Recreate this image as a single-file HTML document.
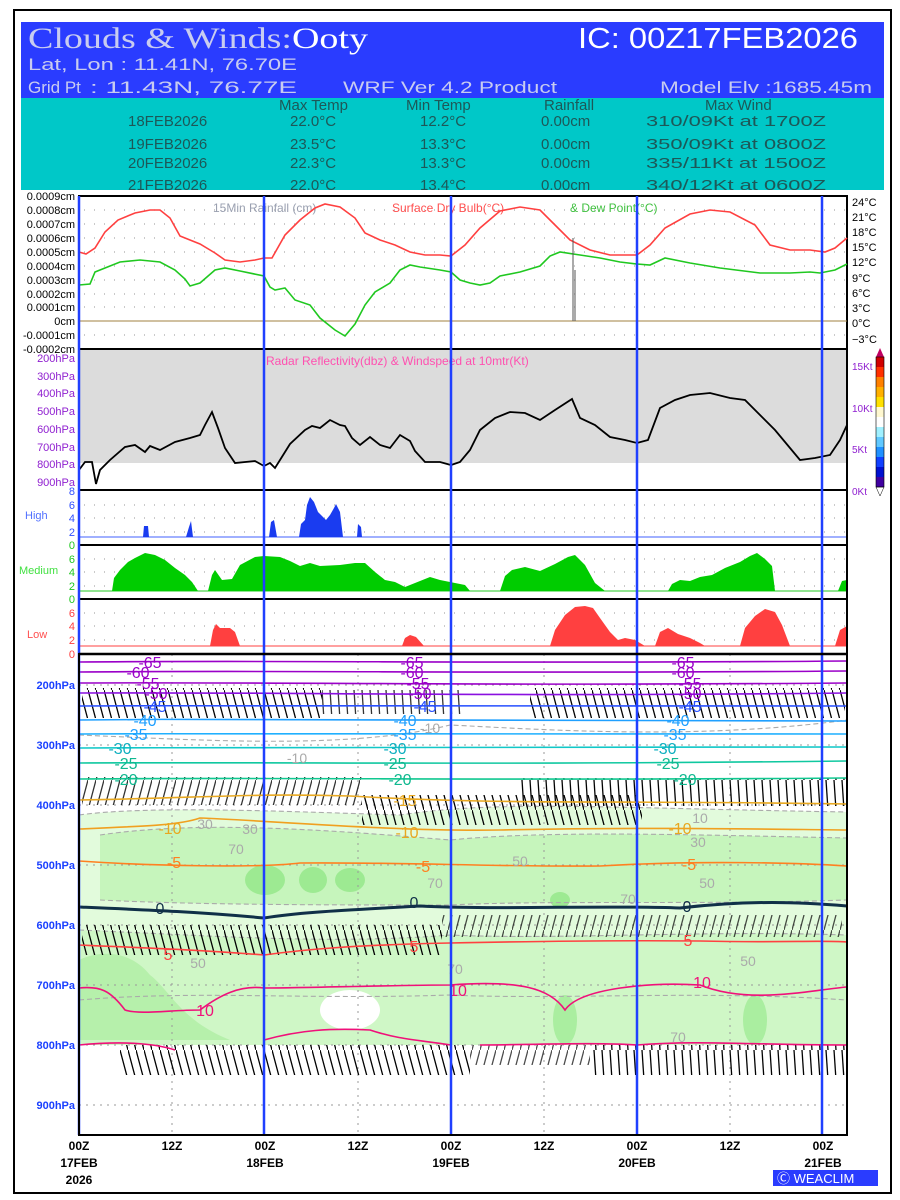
<!DOCTYPE html>
<html><head><meta charset="utf-8"><style>
html,body{margin:0;padding:0;background:#fff;}
svg{display:block;}
text{font-family:"Liberation Sans",sans-serif;}
</style></head><body>
<svg width="900" height="1200" viewBox="0 0 900 1200" xmlns="http://www.w3.org/2000/svg">
<defs>
<pattern id="barbA" width="8" height="30" patternUnits="userSpaceOnUse"><line x1="0" y1="0" x2="8" y2="30" stroke="#000" stroke-width="1.3"/></pattern>
<pattern id="barbB" width="8" height="30" patternUnits="userSpaceOnUse"><line x1="8" y1="0" x2="0" y2="30" stroke="#000" stroke-width="1.3"/></pattern>
<pattern id="barbV" width="8" height="30" patternUnits="userSpaceOnUse"><line x1="2" y1="0" x2="4" y2="30" stroke="#000" stroke-width="1.3"/></pattern>
</defs>
<rect x="14" y="10" width="877" height="1183" fill="#fff" stroke="#000" stroke-width="2"/>
<rect x="21" y="22" width="863" height="76" fill="#2a3cff"/>
<rect x="21" y="98" width="863" height="92" fill="#00c8c8"/>
<text x="28" y="48" font-size="30" fill="#c8ccf0" textLength="340" lengthAdjust="spacingAndGlyphs" style="font-family:'Liberation Serif',serif">Clouds &amp; Winds:<tspan fill="#fff">Ooty</tspan></text>
<text x="578" y="48" font-size="29" fill="#fff" textLength="280" lengthAdjust="spacingAndGlyphs">IC: 00Z17FEB2026</text>
<text x="28" y="70" font-size="17" fill="#c8ccf0" textLength="269" lengthAdjust="spacingAndGlyphs">Lat, Lon : 11.41N, 76.70E</text>
<text x="28" y="93" font-size="17" fill="#c8ccf0">Grid Pt</text>
<text x="90" y="93" font-size="17" fill="#c8ccf0" textLength="207" lengthAdjust="spacingAndGlyphs">: 11.43N, 76.77E</text>
<text x="343" y="93" font-size="17" fill="#c8ccf0" textLength="214" lengthAdjust="spacingAndGlyphs">WRF Ver 4.2 Product</text>
<text x="660" y="93" font-size="17" fill="#c8ccf0" textLength="212" lengthAdjust="spacingAndGlyphs">Model Elv :1685.45m</text>
<g font-size="15" fill="#1d5858">
<text x="279" y="110">Max Temp</text><text x="406" y="110">Min Temp</text><text x="544" y="110">Rainfall</text><text x="705" y="110">Max Wind</text>
<text x="128" y="126">18FEB2026</text><text x="290" y="126">22.0°C</text><text x="420" y="126">12.2°C</text><text x="541" y="126">0.00cm</text><text x="646" y="126" textLength="180" lengthAdjust="spacingAndGlyphs">310/09Kt at 1700Z</text>
<text x="128" y="149">19FEB2026</text><text x="290" y="149">23.5°C</text><text x="420" y="149">13.3°C</text><text x="541" y="149">0.00cm</text><text x="646" y="149" textLength="180" lengthAdjust="spacingAndGlyphs">350/09Kt at 0800Z</text>
<text x="128" y="168">20FEB2026</text><text x="290" y="168">22.3°C</text><text x="420" y="168">13.3°C</text><text x="541" y="168">0.00cm</text><text x="646" y="168" textLength="180" lengthAdjust="spacingAndGlyphs">335/11Kt at 1500Z</text>
<text x="128" y="190">21FEB2026</text><text x="290" y="190">22.0°C</text><text x="420" y="190">13.4°C</text><text x="541" y="190">0.00cm</text><text x="646" y="190" textLength="180" lengthAdjust="spacingAndGlyphs">340/12Kt at 0600Z</text>
</g>
<rect x="79" y="196" width="768" height="153" fill="#fff" stroke="#000" stroke-width="2"/>
<g stroke="#aaa" stroke-dasharray="1,9" stroke-width="1.2">
<line x1="84" y1="210" x2="847" y2="210"/><line x1="84" y1="224" x2="847" y2="224"/><line x1="84" y1="238" x2="847" y2="238"/><line x1="84" y1="252" x2="847" y2="252"/><line x1="84" y1="266" x2="847" y2="266"/><line x1="84" y1="280" x2="847" y2="280"/><line x1="84" y1="294" x2="847" y2="294"/><line x1="84" y1="307" x2="847" y2="307"/><line x1="84" y1="335" x2="847" y2="335"/>
</g>
<line x1="79" y1="321" x2="847" y2="321" stroke="#a08040" stroke-width="1"/>
<g font-size="11" fill="#000" text-anchor="end">
<text x="75" y="200">0.0009cm</text><text x="75" y="214">0.0008cm</text><text x="75" y="228">0.0007cm</text><text x="75" y="242">0.0006cm</text><text x="75" y="256">0.0005cm</text><text x="75" y="270">0.0004cm</text><text x="75" y="284">0.0003cm</text><text x="75" y="298">0.0002cm</text><text x="75" y="311">0.0001cm</text><text x="75" y="325">0cm</text><text x="75" y="339">-0.0001cm</text><text x="75" y="353">-0.0002cm</text>
</g>
<g font-size="11" fill="#000">
<text x="852" y="206">24°C</text><text x="852" y="221">21°C</text><text x="852" y="236">18°C</text><text x="852" y="251">15°C</text><text x="852" y="266">12°C</text><text x="852" y="282">9°C</text><text x="852" y="297">6°C</text><text x="852" y="312">3°C</text><text x="852" y="327">0°C</text><text x="852" y="343">−3°C</text>
</g>
<text x="213" y="212" font-size="12" fill="#9aa0b0">15Min Rainfall (cm)</text>
<text x="392" y="212" font-size="12" fill="#ff5050">Surface Dry Bulb(°C)</text>
<text x="570" y="212" font-size="12" fill="#40c040">&amp; Dew Point(°C)</text>
<polyline fill="none" stroke="#ff4040" stroke-width="1.6" points="79,252 86,254 95,248 105,232 118,220 135,213 150,210 160,210 170,218 180,236 190,240 200,244 215,253 225,260 240,262 255,260 264,258 272,258 285,235 300,220 315,208 325,204 340,207 355,218 365,233 380,240 395,245 410,252 425,255 440,255 451,256 465,245 480,228 500,211 520,207 540,210 555,225 570,240 590,250 610,255 637,255 650,245 665,228 690,214 710,210 730,212 755,225 770,245 790,250 810,250 825,252 835,248 847,238"/>
<polyline fill="none" stroke="#20c820" stroke-width="1.6" points="79,285 90,284 95,272 105,268 120,262 140,260 160,262 175,270 185,279 190,286 200,283 215,270 225,268 240,271 264,276 270,287 275,290 285,288 295,300 310,305 320,318 335,330 345,336 355,324 365,305 375,292 390,283 400,270 410,265 420,267 440,270 451,272 460,280 470,283 480,285 490,283 500,276 520,272 540,266 550,256 560,252 580,255 600,258 620,262 637,264 650,265 665,258 690,263 720,268 760,273 790,273 810,272 820,273 835,270 847,264"/>
<line x1="573" y1="321" x2="573" y2="238" stroke="#555" stroke-width="1"/><line x1="575" y1="321" x2="575" y2="270" stroke="#555" stroke-width="1"/>
<rect x="79" y="349" width="768" height="114" fill="#dcdcdc"/>
<rect x="79" y="349" width="768" height="141" fill="none" stroke="#000" stroke-width="2"/>
<g font-size="11" fill="#9020d0" text-anchor="end">
<text x="75" y="362">200hPa</text><text x="75" y="380">300hPa</text><text x="75" y="397">400hPa</text><text x="75" y="415">500hPa</text><text x="75" y="433">600hPa</text><text x="75" y="451">700hPa</text><text x="75" y="468">800hPa</text><text x="75" y="486">900hPa</text>
</g>
<g font-size="10" fill="#9020d0"><text x="852" y="370">15Kt</text><text x="852" y="412">10Kt</text><text x="852" y="453">5Kt</text><text x="852" y="495">0Kt</text></g>
<text x="266" y="365" font-size="12" fill="#ff50b0">Radar Reflectivity(dbz) &amp; Windspeed at 10mtr(Kt)</text>
<polyline fill="none" stroke="#000" stroke-width="1.8" points="79,470 85,462 92,462 96,484 100,470 110,460 125,447 135,445 145,452 150,446 160,450 175,442 190,438 200,435 205,425 212,412 218,428 225,448 235,463 255,461 264,466 270,463 275,468 280,460 290,444 305,430 312,426 320,428 330,420 340,425 345,426 352,438 360,445 370,437 380,445 390,448 400,435 410,441 415,451 425,462 440,462 451,465 460,462 470,450 480,430 495,418 510,412 525,413 540,420 555,410 572,399 580,418 595,425 610,437 625,440 637,443 648,440 660,408 675,400 690,395 710,393 730,398 745,400 760,415 775,430 790,448 800,460 815,458 830,455 840,440 847,425"/>
<g>
<polygon points="876,357 880,348 884,357" fill="#c00060"/>
<rect x="876" y="357" width="8" height="10" fill="#d00000"/><rect x="876" y="367" width="8" height="10" fill="#ff3000"/><rect x="876" y="377" width="8" height="10" fill="#ff8000"/><rect x="876" y="387" width="8" height="10" fill="#ffb000"/><rect x="876" y="397" width="8" height="10" fill="#ffe000"/><rect x="876" y="407" width="8" height="10" fill="#fff8d0"/><rect x="876" y="417" width="8" height="10" fill="#fff"/><rect x="876" y="427" width="8" height="10" fill="#a0f0ff"/><rect x="876" y="437" width="8" height="10" fill="#60c8ff"/><rect x="876" y="447" width="8" height="10" fill="#2090ff"/><rect x="876" y="457" width="8" height="10" fill="#1040ff"/><rect x="876" y="467" width="8" height="10" fill="#0010d0"/><rect x="876" y="477" width="8" height="10" fill="#4000a0"/>
<polygon points="876,487 880,496 884,487" fill="#fff" stroke="#000" stroke-width="0.5"/>
<rect x="876" y="357" width="8" height="130" fill="none" stroke="#000" stroke-width="0.6"/>
</g>
<rect x="79" y="490" width="768" height="164" fill="#fff"/>
<g stroke="#aaa" stroke-dasharray="1,9" stroke-width="1.2">
<line x1="84" y1="505" x2="847" y2="505"/><line x1="84" y1="518" x2="847" y2="518"/><line x1="84" y1="532" x2="847" y2="532"/>
<line x1="84" y1="559" x2="847" y2="559"/><line x1="84" y1="572" x2="847" y2="572"/><line x1="84" y1="586" x2="847" y2="586"/>
<line x1="84" y1="613" x2="847" y2="613"/><line x1="84" y1="626" x2="847" y2="626"/><line x1="84" y1="640" x2="847" y2="640"/>
</g>
<line x1="79" y1="537" x2="847" y2="537" stroke="#4060ff" stroke-width="1"/>
<polygon fill="#1a3cf0" points="143,537 144,526 148,526 149,537 186,537 189,527 191,521 193,537 269,537 271,522 274,520 277,537 299,537 301,524 305,520 307,505 310,497 314,502 318,512 322,516 326,520 330,515 334,508 336,504 340,512 343,537 357,537 358,524 361,527 362,537"/>
<line x1="79" y1="591" x2="847" y2="591" stroke="#20c820" stroke-width="1"/>
<polygon fill="#00cc00" points="112,591 114,578 120,570 128,562 135,558 145,553 155,555 165,560 175,568 185,575 192,582 198,591 208,591 212,575 215,570 222,580 232,579 240,565 255,557 264,556 280,557 290,561 300,566 310,563 320,566 340,565 355,563 365,563 375,572 385,580 395,582 405,587 420,581 430,577 440,580 455,583 465,585 470,591 500,591 505,576 512,570 525,567 540,571 555,564 568,557 575,555 585,565 595,583 605,591 668,591 672,584 680,580 690,581 700,577 712,575 725,568 740,562 750,556 757,553 765,559 772,566 775,591 838,591 842,581 847,580 847,591"/>
<line x1="79" y1="646" x2="847" y2="646" stroke="#ff4040" stroke-width="1"/>
<polygon fill="#ff4040" points="210,646 213,630 216,624 220,628 230,628 235,632 240,646 402,646 405,638 410,635 416,637 424,646 550,646 555,630 565,615 575,607 585,606 593,608 600,618 610,632 618,640 625,638 635,640 645,646 655,646 660,632 668,628 678,634 690,638 700,643 705,646 740,646 745,628 755,616 765,609 775,612 782,625 790,646 835,646 840,630 847,626 847,646"/>
<line x1="79" y1="545" x2="847" y2="545" stroke="#000" stroke-width="2"/>
<line x1="79" y1="599" x2="847" y2="599" stroke="#000" stroke-width="2"/>
<rect x="79" y="490" width="768" height="164" fill="none" stroke="#000" stroke-width="2"/>
<g font-size="11" fill="#3050ff" text-anchor="end"><text x="75" y="495">8</text><text x="75" y="509">6</text><text x="75" y="522">4</text><text x="75" y="536">2</text></g>
<g font-size="11" fill="#20c820" text-anchor="end"><text x="75" y="549">0</text><text x="75" y="563">6</text><text x="75" y="576">4</text><text x="75" y="590">2</text><text x="75" y="603">0</text></g>
<g font-size="11" fill="#ff4040" text-anchor="end"><text x="75" y="617">6</text><text x="75" y="630">4</text><text x="75" y="644">2</text><text x="75" y="658">0</text></g>
<text x="25" y="519" font-size="11" fill="#5070ff">High</text>
<text x="19" y="574" font-size="11" fill="#40e040">Medium</text>
<text x="27" y="638" font-size="11" fill="#ff5050">Low</text>
<rect x="79" y="654" width="768" height="481" fill="#fff"/>
<path d="M79,815 C150,805 300,812 400,815 C500,800 600,808 847,812 L847,1045 L79,1045 Z" fill="#e2fbdc"/>
<path d="M100,835 C200,820 330,830 450,840 C550,830 700,835 847,838 L847,900 C700,905 550,900 450,905 C330,905 200,905 100,900 Z" fill="#c6f5bc"/>
<path d="M79,930 C200,935 330,945 450,935 C560,940 700,930 847,935 L847,1045 C750,1045 650,1045 560,1045 C470,1045 300,1045 79,1045 Z" fill="#cff7c6"/>
<path d="M79,960 C100,950 130,950 150,975 C170,990 180,1020 230,1040 L79,1040 Z" fill="#b6f0ab"/>
<ellipse cx="265" cy="880" rx="20" ry="15" fill="#9dea92"/><ellipse cx="313" cy="880" rx="14" ry="13" fill="#9dea92"/><ellipse cx="350" cy="880" rx="15" ry="12" fill="#9dea92"/>
<ellipse cx="350" cy="1010" rx="30" ry="20" fill="#fff"/><ellipse cx="565" cy="1020" rx="12" ry="25" fill="#aaeea0"/><ellipse cx="755" cy="1020" rx="12" ry="25" fill="#aaeea0"/>
<ellipse cx="560" cy="900" rx="10" ry="8" fill="#9dea92"/>
<g fill="none" stroke="#aaa" stroke-dasharray="5,3" stroke-width="1.1">
<path d="M79,735 C200,740 350,750 450,725 C550,730 700,740 847,720"/>
<path d="M79,815 C150,805 300,812 400,815 C500,800 600,808 847,812"/>
<path d="M100,835 C200,820 330,830 450,840 C550,830 700,835 847,838"/>
<path d="M100,900 C200,905 330,905 450,905 C550,900 700,905 847,900"/>
<path d="M79,930 C200,935 330,945 450,935 C560,940 700,930 847,935"/>
<path d="M79,1000 C200,990 300,1000 450,995 C560,1000 700,990 847,1000"/>
</g>
<g stroke="#999" stroke-dasharray="2,5" stroke-width="1">
<line x1="172" y1="654" x2="172" y2="1135"/><line x1="358" y1="654" x2="358" y2="1135"/><line x1="544" y1="654" x2="544" y2="1135"/><line x1="730" y1="654" x2="730" y2="1135"/>
<line x1="79" y1="685" x2="847" y2="685"/><line x1="79" y1="745" x2="847" y2="745"/><line x1="79" y1="805" x2="847" y2="805"/><line x1="79" y1="865" x2="847" y2="865"/><line x1="79" y1="925" x2="847" y2="925"/><line x1="79" y1="985" x2="847" y2="985"/><line x1="79" y1="1045" x2="847" y2="1045"/><line x1="79" y1="1105" x2="847" y2="1105"/>
</g>
<rect x="82" y="688" width="240" height="30" fill="url(#barbA)"/>
<rect x="322" y="690" width="140" height="24" fill="url(#barbV)" opacity="0.8"/>
<rect x="530" y="688" width="315" height="30" fill="url(#barbA)"/>
<rect x="82" y="777" width="280" height="28" fill="url(#barbB)" opacity="0.8"/>
<rect x="362" y="795" width="280" height="30" fill="url(#barbA)"/>
<rect x="520" y="778" width="325" height="28" fill="url(#barbV)"/>
<rect x="82" y="925" width="360" height="30" fill="url(#barbA)"/>
<rect x="442" y="915" width="400" height="22" fill="url(#barbB)" opacity="0.7"/>
<rect x="120" y="1045" width="350" height="30" fill="url(#barbA)"/>
<rect x="470" y="1045" width="120" height="20" fill="url(#barbB)" opacity="0.7"/>
<rect x="590" y="1045" width="255" height="30" fill="url(#barbV)"/>
<g fill="none" stroke-width="1.6">
<path d="M79,662 C300,660 500,664 847,661" stroke="#9a00c8"/>
<path d="M79,672 C300,670 500,674 847,671" stroke="#9a00c8"/>
<path d="M79,683 C300,682 500,686 847,683" stroke="#9a00c8"/>
<path d="M79,693 C300,692 500,697 847,693" stroke="#8a10e0"/>
<path d="M79,706 C300,705 500,707 847,706" stroke="#2850ff"/>
<path d="M79,720 C300,718 500,719 847,721" stroke="#20a0ff"/>
<path d="M79,734 C300,733 500,735 847,734" stroke="#20b0ff"/>
<path d="M79,748 C300,747 500,749 847,747" stroke="#10c8c8"/>
<path d="M79,763 C300,762 500,765 847,761" stroke="#10c8a0"/>
<path d="M79,779 C300,777 500,781 847,778" stroke="#10c890"/>
<path d="M79,800 C200,798 250,793 350,796 C500,805 600,800 847,804" stroke="#e8a820"/>
<path d="M79,829 C150,826 180,825 200,818 C260,820 400,832 500,830 C650,827 750,829 847,830" stroke="#f0a020"/>
<path d="M79,861 C150,866 260,868 300,863 C400,862 500,867 600,866 C700,860 800,863 847,866" stroke="#ff8020"/>
<path d="M79,907 C150,910 200,912 264,918 C300,912 350,910 420,906 C500,910 600,905 680,908 C750,900 800,902 847,906" stroke="#103048" stroke-width="3"/>
<path d="M79,945 C150,948 200,950 264,955 C300,950 350,945 450,943 C500,942 600,940 700,941 C780,943 820,940 847,942" stroke="#ff4040"/>
<path d="M79,988 C100,986 110,990 125,1010 C140,1015 170,1010 200,1010 C220,995 240,985 264,988 C300,988 400,985 450,985 C520,980 550,988 565,1010 C580,988 650,982 700,985 C750,1005 810,990 847,987" stroke="#f0107a"/>
<path d="M79,1045 C130,1040 160,1045 175,1050 M264,1040 C300,1030 330,1028 370,1030 C400,1040 420,1040 451,1045 M480,1045 C520,1045 600,1042 637,1045 C700,1040 750,1045 847,1045" stroke="#f0107a"/>
</g>
<g font-size="16" text-anchor="middle">
<g fill="#9a00c8"><text x="150" y="668">-65</text><text x="138" y="678">-60</text><text x="148" y="689">-55</text><text x="156" y="699">-50</text>
<text x="412" y="668">-65</text><text x="412" y="678">-60</text><text x="418" y="689">-55</text><text x="420" y="699">-50</text>
<text x="683" y="668">-65</text><text x="683" y="678">-60</text><text x="690" y="689">-55</text><text x="690" y="699">-50</text></g>
<g fill="#2850ff"><text x="155" y="712">-45</text><text x="425" y="712">-45</text><text x="690" y="712">-45</text></g>
<g fill="#20a0ff"><text x="145" y="726">-40</text><text x="405" y="726">-40</text><text x="678" y="726">-40</text>
<text x="136" y="740">-35</text><text x="405" y="740">-35</text><text x="675" y="740">-35</text></g>
<g fill="#10b0c0"><text x="120" y="754">-30</text><text x="395" y="754">-30</text><text x="665" y="754">-30</text></g>
<g fill="#10b890"><text x="126" y="769">-25</text><text x="395" y="769">-25</text><text x="668" y="769">-25</text>
<text x="126" y="785">-20</text><text x="400" y="785">-20</text><text x="685" y="785">-20</text></g>
<g fill="#e8a820"><text x="405" y="806">-15</text><text x="170" y="834">-10</text><text x="407" y="838">-10</text><text x="680" y="834">-10</text></g>
<g fill="#ff8020"><text x="174" y="868">-5</text><text x="423" y="872">-5</text><text x="689" y="870">-5</text></g>
<g fill="#103048"><text x="160" y="914">0</text><text x="414" y="908">0</text><text x="687" y="912">0</text></g>
<g fill="#ff4040"><text x="168" y="960">5</text><text x="414" y="952">5</text><text x="688" y="946">5</text></g>
<g fill="#f0107a"><text x="205" y="1016">10</text><text x="458" y="996">10</text><text x="702" y="988">10</text></g>
<g fill="#aaa" font-size="14"><text x="236" y="854">70</text><text x="435" y="888">70</text><text x="628" y="904">70</text><text x="707" y="888">50</text><text x="520" y="866">50</text><text x="250" y="834">30</text><text x="198" y="968">50</text><text x="455" y="974">70</text><text x="748" y="966">50</text><text x="678" y="1042">70</text><text x="297" y="763">-10</text><text x="430" y="733">-10</text><text x="700" y="823">10</text><text x="698" y="847">30</text><text x="205" y="829">30</text></g>
</g>
<g stroke="#2040ff" stroke-width="2.5">
<line x1="79" y1="196" x2="79" y2="1135"/><line x1="264" y1="196" x2="264" y2="1135"/><line x1="451" y1="196" x2="451" y2="1135"/><line x1="637" y1="196" x2="637" y2="1135"/><line x1="822" y1="196" x2="822" y2="1135"/>
</g>
<rect x="79" y="654" width="768" height="481" fill="none" stroke="#000" stroke-width="2"/>
<line x1="79" y1="654" x2="847" y2="654" stroke="#000" stroke-width="2.5"/>
<g font-size="11" fill="#1a40ff" text-anchor="end" font-weight="bold">
<text x="75" y="689">200hPa</text><text x="75" y="749">300hPa</text><text x="75" y="809">400hPa</text><text x="75" y="869">500hPa</text><text x="75" y="929">600hPa</text><text x="75" y="989">700hPa</text><text x="75" y="1049">800hPa</text><text x="75" y="1109">900hPa</text>
</g>
<g font-size="12" fill="#000" text-anchor="middle" font-weight="bold">
<text x="79" y="1150">00Z</text><text x="79" y="1167">17FEB</text><text x="79" y="1184">2026</text>
<text x="172" y="1150">12Z</text>
<text x="265" y="1150">00Z</text><text x="265" y="1167">18FEB</text>
<text x="358" y="1150">12Z</text>
<text x="451" y="1150">00Z</text><text x="451" y="1167">19FEB</text>
<text x="544" y="1150">12Z</text>
<text x="637" y="1150">00Z</text><text x="637" y="1167">20FEB</text>
<text x="730" y="1150">12Z</text>
<text x="823" y="1150">00Z</text><text x="823" y="1167">21FEB</text>
</g>
<rect x="773" y="1170" width="105" height="16" fill="#2a3cff"/>
<text x="777" y="1183" font-size="13" fill="#fff">Ⓒ WEACLIM</text>
</svg>
</body></html>
